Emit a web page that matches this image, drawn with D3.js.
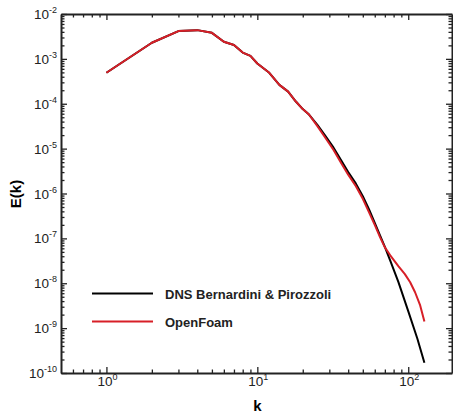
<!DOCTYPE html>
<html>
<head>
<meta charset="utf-8">
<script src="https://cdn.jsdelivr.net/npm/d3@7"></script>
<style>
  body { margin: 0; background: #fff; }
  svg { font-family: "Liberation Sans", Arial, sans-serif; }
</style>
</head>
<body>
<svg width="453" height="414"></svg>
<script>
// energy spectrum, DNS reference
const kDns = [1, 2, 3, 4, 5, 6, 7, 8, 9, 10, 12, 14, 16, 18, 20, 22, 25, 28, 32, 36, 40, 45, 50, 55, 60, 65, 70, 76, 86, 100, 115, 128];
const eDns = [4.9e-4, 2.29e-3, 4.17e-3, 4.37e-3, 3.8e-3, 2.4e-3, 2.04e-3, 1.38e-3, 1.17e-3, 7.9e-4, 4.9e-4, 2.63e-4, 1.86e-4, 1.12e-4, 7.6e-5, 5.75e-5,
  3.39e-5, 2.0e-5, 1.05e-5, 5.4e-6, 3.0e-6, 1.66e-6, 8.7e-7, 4.4e-7, 2.2e-7, 1.17e-7, 6.5e-8, 3.2e-8, 1.07e-8, 2.4e-9, 5.8e-10, 1.7e-10];

// OpenFoam LES
const kFoam = [1, 2, 3, 4, 5, 6, 7, 8, 9, 10, 12, 14, 16, 18, 20, 22, 25, 28, 32, 36, 40, 45, 50, 55, 60, 65, 70, 76, 86, 95, 103, 111, 120, 128];
const eFoam = [4.9e-4, 2.29e-3, 4.17e-3, 4.37e-3, 3.8e-3, 2.4e-3, 2.04e-3, 1.38e-3, 1.17e-3, 7.9e-4, 4.9e-4, 2.63e-4, 1.86e-4, 1.12e-4, 7.6e-5, 5.75e-5,
  3.16e-5, 1.82e-5, 9.3e-6, 4.7e-6, 2.63e-6, 1.45e-6, 7.6e-7, 3.8e-7, 2.0e-7, 1.07e-7, 6.3e-8, 4.2e-8, 2.4e-8, 1.6e-8, 1.05e-8, 6.3e-9, 3.2e-9, 1.4e-9];

const xMajor = [1, 10, 100];
const xMinor = [0.6, 0.7, 0.8, 0.9, 2, 3, 4, 5, 6, 7, 8, 9, 20, 30, 40, 50, 60, 70, 80, 90];
const yExp = [-10, -9, -8, -7, -6, -5, -4, -3, -2];
const seriesNames = ["DNS Bernardini & Pirozzoli", "OpenFoam"];
const seriesColors = ["#000000", "#d71f27"];

const L = 61, R = 452, T = 14, B = 373;

const svg = d3.select("svg");

const x = d3.scaleLog().domain([0.5, 195]).range([L, R]);
const y = d3.scaleLog().domain([1e-10, 1e-2]).range([B, T]);

const yMajor = yExp.map(e => Math.pow(10, e));
const yMinor = [];
yExp.slice(0, -1).forEach(e => {
  for (let m = 2; m <= 9; m++) yMinor.push(m * Math.pow(10, e));
});

function styleAxis(g, w) {
  g.select(".domain").attr("stroke", "#222").attr("stroke-width", w);
  g.selectAll(".tick line").attr("stroke", "#222").attr("stroke-width", 1.3);
}

// major + minor ticks on all four sides, pointing inward
[[d3.axisBottom, B], [d3.axisTop, T]].forEach(([ax, pos]) => {
  svg.append("g").attr("transform", "translate(0," + pos + ")")
    .call(ax(x).tickValues(xMajor).tickSizeInner(-6).tickSizeOuter(0).tickFormat(""))
    .call(g => styleAxis(g, 2));
  svg.append("g").attr("transform", "translate(0," + pos + ")")
    .call(ax(x).tickValues(xMinor).tickSizeInner(-3.5).tickSizeOuter(0).tickFormat(""))
    .call(g => { g.select(".domain").remove(); styleAxis(g, 2); });
});
[[d3.axisLeft, L], [d3.axisRight, R]].forEach(([ax, pos]) => {
  svg.append("g").attr("transform", "translate(" + pos + ",0)")
    .call(ax(y).tickValues(yMajor).tickSizeInner(-6).tickSizeOuter(0).tickFormat(""))
    .call(g => styleAxis(g, 2));
  svg.append("g").attr("transform", "translate(" + pos + ",0)")
    .call(ax(y).tickValues(yMinor).tickSizeInner(-3.5).tickSizeOuter(0).tickFormat(""))
    .call(g => { g.select(".domain").remove(); styleAxis(g, 2); });
});

// tick labels with superscript exponents
const yl = svg.append("g").selectAll("text").data(yExp).join("text")
  .attr("x", L - 4)
  .attr("y", d => y(Math.pow(10, d)) + 5)
  .attr("text-anchor", "end")
  .attr("font-size", 13.5)
  .attr("fill", "#222");
yl.append("tspan").text("10");
yl.append("tspan").attr("dy", -6).attr("font-size", 9).text(d => d);

const xl = svg.append("g").selectAll("text").data([0, 1, 2]).join("text")
  .attr("x", d => x(Math.pow(10, d)) + 1)
  .attr("y", 386)
  .attr("text-anchor", "middle")
  .attr("font-size", 13.5)
  .attr("fill", "#222");
xl.append("tspan").text("10");
xl.append("tspan").attr("dy", -6).attr("font-size", 9).text(d => d);

// axis titles
svg.append("text")
  .attr("x", (L + R) / 2 + 1).attr("y", 411)
  .attr("text-anchor", "middle")
  .attr("font-size", 15).attr("font-weight", "bold")
  .text("k");
svg.append("text")
  .attr("transform", "translate(21,194) rotate(-90)")
  .attr("text-anchor", "middle")
  .attr("font-size", 15).attr("font-weight", "bold")
  .text("E(k)");

// curves
const line = d3.line().x(d => x(d[0])).y(d => y(d[1]));
const series = [
  d3.zip(kDns, eDns),
  d3.zip(kFoam, eFoam)
];
svg.append("g").selectAll("path").data(series).join("path")
  .attr("d", line)
  .attr("fill", "none")
  .attr("stroke", (d, i) => seriesColors[i])
  .attr("stroke-width", 2)
  .attr("stroke-linejoin", "round");

// legend
const leg = svg.append("g").selectAll("g").data(seriesNames).join("g")
  .attr("transform", (d, i) => "translate(92," + (293.5 + i * 28) + ")");
leg.append("line")
  .attr("x1", 0).attr("x2", 61)
  .attr("stroke", (d, i) => seriesColors[i])
  .attr("stroke-width", 2);
leg.append("text")
  .attr("x", 73).attr("y", 5)
  .attr("font-size", 13).attr("font-weight", "bold")
  .attr("fill", "#222")
  .text(d => d);
</script>
</body>
</html>
